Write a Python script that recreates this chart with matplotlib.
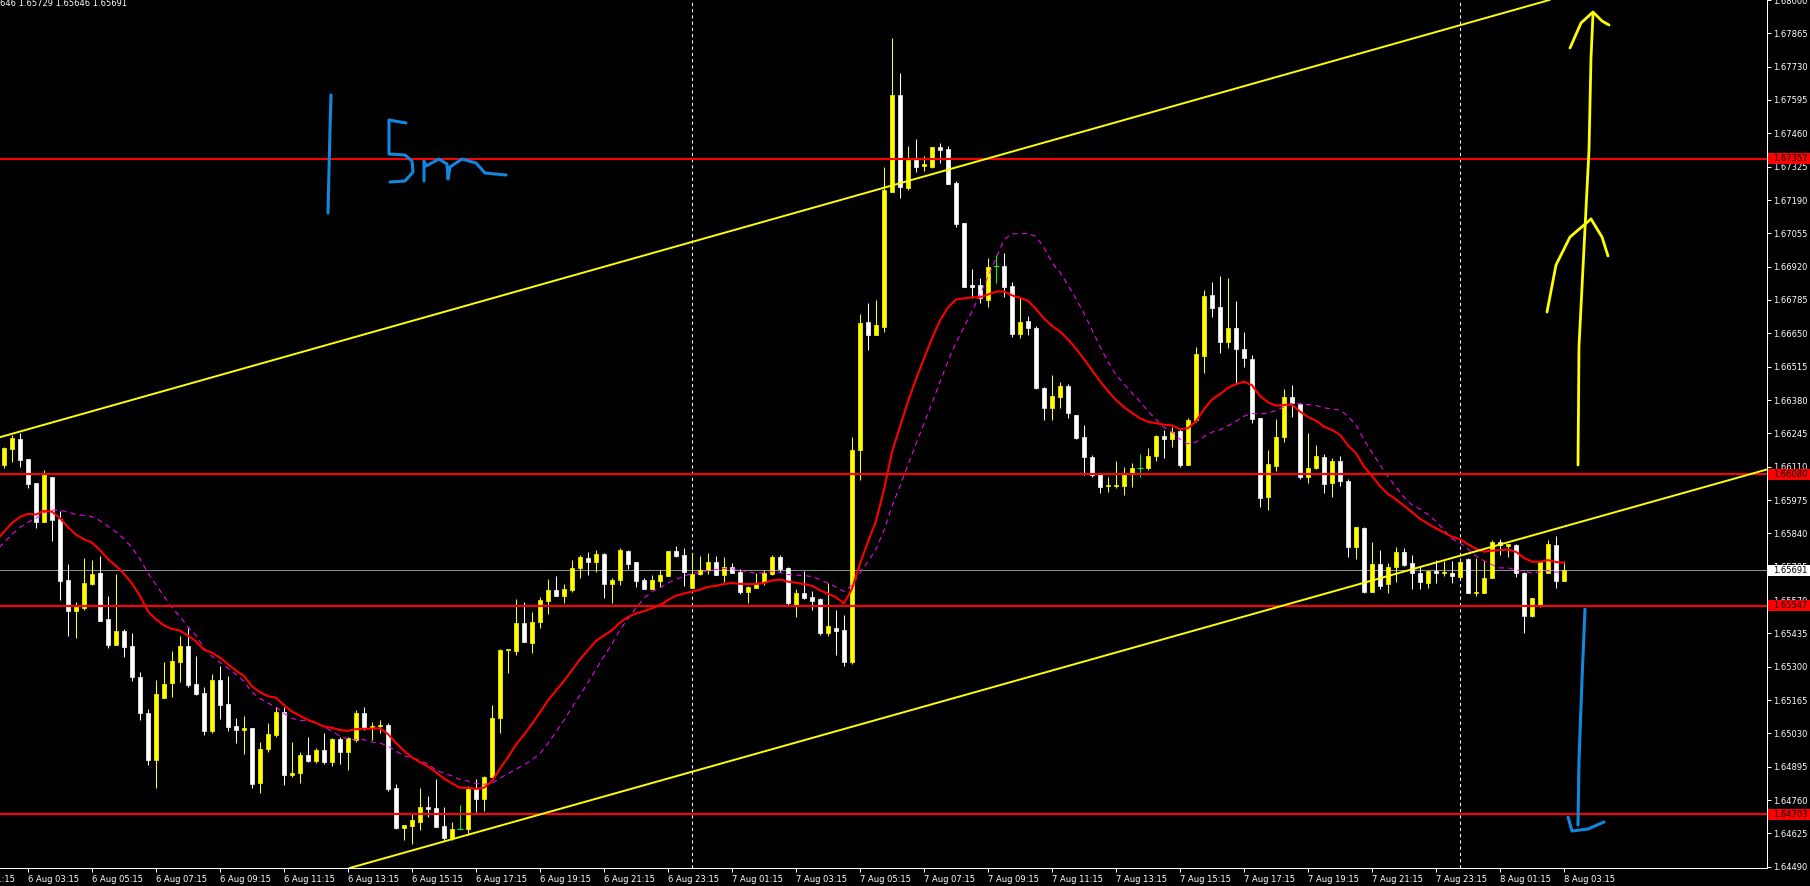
import numpy as np
import pandas as pd
import matplotlib
matplotlib.use("Agg")
import matplotlib.pyplot as plt
from matplotlib.patches import Rectangle
from matplotlib.transforms import Affine2D

# ==================== 数据 (M15, 从截图读取) ====================
bar_start = "2014-08-06 02:30"

opens = [
    1.66117, 1.66182, 1.66222, 1.66141, 1.66044, 1.65886, 1.66068, 1.65898, 1.65651, 1.65525,
    1.65538, 1.65635, 1.65679, 1.65493, 1.65388, 1.65444, 1.65384, 1.65258, 1.65112, 1.64922,
    1.65173, 1.65234, 1.65319, 1.65384, 1.65230, 1.65193, 1.65039, 1.65246, 1.65149, 1.65060,
    1.65044, 1.65052, 1.64829, 1.64967, 1.65023, 1.65116, 1.64861, 1.64869, 1.64942, 1.64918,
    1.64963, 1.64914, 1.65007, 1.64954, 1.65003, 1.65112, 1.65056, 1.65060, 1.65064, 1.64809,
    1.64647, 1.64655, 1.64671, 1.64732, 1.64728, 1.64655, 1.64606, 1.64643, 1.64643, 1.64805,
    1.64764, 1.64853, 1.65092, 1.65368, 1.65363, 1.65477, 1.65396, 1.65481, 1.65566, 1.65611,
    1.65586, 1.65611, 1.65700, 1.65740, 1.65724, 1.65756, 1.65635, 1.65651, 1.65768, 1.65724,
    1.65651, 1.65615, 1.65647, 1.65667, 1.65768, 1.65752, 1.65619, 1.65675, 1.65692, 1.65724,
    1.65671, 1.65704, 1.65683, 1.65602, 1.65619, 1.65643, 1.65675, 1.65744, 1.65700, 1.65550,
    1.65598, 1.65582, 1.65574, 1.65436, 1.65457, 1.65449, 1.65319, 1.66178, 1.66696, 1.66643,
    1.66676, 1.67222, 1.67615, 1.67239, 1.67352, 1.67328, 1.67324, 1.67405, 1.67397, 1.67259,
    1.67097, 1.66846, 1.66846, 1.66785, 1.66923, 1.66923, 1.66842, 1.66647, 1.66700, 1.66672,
    1.66429, 1.66348, 1.66392, 1.66437, 1.66319, 1.66230, 1.66149, 1.66080, 1.66032, 1.66032,
    1.66032, 1.66084, 1.66105, 1.66105, 1.66153, 1.66234, 1.66222, 1.66254, 1.66117, 1.66299,
    1.66558, 1.66805, 1.66757, 1.66615, 1.66672, 1.66587, 1.66546, 1.66307, 1.65987, 1.66113,
    1.66230, 1.66392, 1.66364, 1.66068, 1.66105, 1.66149, 1.66044, 1.66133, 1.66052, 1.65785,
    1.65862, 1.65602, 1.65716, 1.65635, 1.65704, 1.65764, 1.65720, 1.65679, 1.65639, 1.65687,
    1.65679, 1.65679, 1.65663, 1.65736, 1.65598, 1.65598, 1.65659, 1.65805, 1.65789, 1.65793,
    1.65679, 1.65505, 1.65550, 1.65679, 1.65793, 1.65646,
]

highs = [
    1.66190, 1.66238, 1.66246, 1.66141, 1.66044, 1.66097, 1.66068, 1.65930, 1.65716, 1.65562,
    1.65740, 1.65732, 1.65748, 1.65586, 1.65675, 1.65453, 1.65436, 1.65278, 1.65129, 1.65246,
    1.65319, 1.65363, 1.65424, 1.65457, 1.65343, 1.65218, 1.65270, 1.65303, 1.65262, 1.65092,
    1.65100, 1.65052, 1.64995, 1.65072, 1.65137, 1.65137, 1.64995, 1.64954, 1.65015, 1.64971,
    1.65031, 1.65011, 1.65015, 1.65015, 1.65125, 1.65137, 1.65076, 1.65084, 1.65072, 1.64825,
    1.64659, 1.64707, 1.64809, 1.64776, 1.64845, 1.64732, 1.64671, 1.64740, 1.64817, 1.64845,
    1.64857, 1.65145, 1.65372, 1.65372, 1.65574, 1.65562, 1.65521, 1.65582, 1.65655, 1.65667,
    1.65635, 1.65732, 1.65752, 1.65764, 1.65773, 1.65760, 1.65659, 1.65780, 1.65773, 1.65724,
    1.65659, 1.65671, 1.65692, 1.65768, 1.65789, 1.65780, 1.65760, 1.65748, 1.65760, 1.65748,
    1.65744, 1.65720, 1.65696, 1.65627, 1.65679, 1.65692, 1.65752, 1.65752, 1.65704, 1.65615,
    1.65687, 1.65606, 1.65578, 1.65639, 1.65530, 1.65509, 1.66230, 1.66728, 1.66773, 1.66785,
    1.67324, 1.67846, 1.67704, 1.67409, 1.67437, 1.67368, 1.67405, 1.67421, 1.67409, 1.67267,
    1.67097, 1.66911, 1.66874, 1.66955, 1.66967, 1.66975, 1.66858, 1.66793, 1.66720, 1.66680,
    1.66433, 1.66481, 1.66453, 1.66445, 1.66319, 1.66279, 1.66157, 1.66084, 1.66068, 1.66133,
    1.66109, 1.66125, 1.66161, 1.66186, 1.66238, 1.66259, 1.66271, 1.66267, 1.66307, 1.66595,
    1.66826, 1.66858, 1.66882, 1.66874, 1.66781, 1.66655, 1.66562, 1.66307, 1.66178, 1.66303,
    1.66425, 1.66441, 1.66368, 1.66246, 1.66198, 1.66161, 1.66145, 1.66153, 1.66060, 1.65866,
    1.65866, 1.65805, 1.65773, 1.65720, 1.65785, 1.65780, 1.65752, 1.65708, 1.65692, 1.65732,
    1.65728, 1.65728, 1.65740, 1.65740, 1.65740, 1.65728, 1.65813, 1.65817, 1.65797, 1.65797,
    1.65683, 1.65578, 1.65724, 1.65813, 1.65829, 1.65729,
]

lows = [
    1.66105, 1.66129, 1.66109, 1.66024, 1.65862, 1.65886, 1.65809, 1.65570, 1.65424, 1.65416,
    1.65530, 1.65631, 1.65485, 1.65376, 1.65388, 1.65339, 1.65242, 1.65084, 1.64902, 1.64809,
    1.65173, 1.65177, 1.65238, 1.65218, 1.65185, 1.65023, 1.65031, 1.65088, 1.65039, 1.64991,
    1.64946, 1.64809, 1.64788, 1.64954, 1.65015, 1.64821, 1.64853, 1.64829, 1.64914, 1.64910,
    1.64906, 1.64898, 1.64906, 1.64882, 1.64995, 1.65044, 1.65003, 1.65031, 1.64796, 1.64643,
    1.64598, 1.64582, 1.64639, 1.64691, 1.64651, 1.64598, 1.64598, 1.64643, 1.64618, 1.64711,
    1.64715, 1.64853, 1.65031, 1.65274, 1.65347, 1.65399, 1.65355, 1.65457, 1.65513, 1.65586,
    1.65558, 1.65602, 1.65659, 1.65671, 1.65683, 1.65578, 1.65558, 1.65631, 1.65696, 1.65623,
    1.65615, 1.65615, 1.65623, 1.65667, 1.65744, 1.65627, 1.65619, 1.65671, 1.65675, 1.65671,
    1.65643, 1.65679, 1.65594, 1.65558, 1.65619, 1.65631, 1.65671, 1.65683, 1.65550, 1.65501,
    1.65574, 1.65530, 1.65428, 1.65424, 1.65347, 1.65303, 1.65311, 1.66056, 1.66583, 1.66643,
    1.66655, 1.67222, 1.67198, 1.67231, 1.67303, 1.67307, 1.67320, 1.67340, 1.67255, 1.67081,
    1.66836, 1.66793, 1.66773, 1.66757, 1.66854, 1.66797, 1.66635, 1.66631, 1.66643, 1.66425,
    1.66299, 1.66299, 1.66348, 1.66307, 1.66222, 1.66076, 1.66068, 1.66003, 1.66007, 1.66024,
    1.65995, 1.66028, 1.66068, 1.66097, 1.66133, 1.66145, 1.66190, 1.66109, 1.66117, 1.66291,
    1.66489, 1.66716, 1.66570, 1.66591, 1.66449, 1.66514, 1.66287, 1.65947, 1.65935, 1.66092,
    1.66210, 1.66311, 1.66060, 1.66044, 1.66101, 1.66003, 1.65987, 1.66032, 1.65744, 1.65736,
    1.65598, 1.65602, 1.65615, 1.65598, 1.65643, 1.65708, 1.65615, 1.65615, 1.65619, 1.65639,
    1.65667, 1.65639, 1.65659, 1.65598, 1.65586, 1.65598, 1.65659, 1.65752, 1.65744, 1.65663,
    1.65436, 1.65501, 1.65542, 1.65679, 1.65619, 1.65646,
]

closes = [
    1.66186, 1.66226, 1.66137, 1.66040, 1.65886, 1.66076, 1.65894, 1.65647, 1.65525, 1.65542,
    1.65639, 1.65675, 1.65485, 1.65388, 1.65444, 1.65380, 1.65258, 1.65112, 1.64922, 1.65188,
    1.65230, 1.65323, 1.65384, 1.65226, 1.65189, 1.65039, 1.65246, 1.65145, 1.65056, 1.65044,
    1.65052, 1.64825, 1.64967, 1.65027, 1.65116, 1.64861, 1.64869, 1.64942, 1.64918, 1.64963,
    1.64914, 1.65007, 1.64954, 1.65011, 1.65112, 1.65056, 1.65060, 1.65062, 1.64805, 1.64647,
    1.64659, 1.64679, 1.64732, 1.64724, 1.64651, 1.64606, 1.64643, 1.64643, 1.64805, 1.64764,
    1.64853, 1.65092, 1.65368, 1.65372, 1.65477, 1.65399, 1.65481, 1.65570, 1.65611, 1.65586,
    1.65615, 1.65700, 1.65744, 1.65724, 1.65756, 1.65635, 1.65651, 1.65773, 1.65716, 1.65647,
    1.65615, 1.65651, 1.65671, 1.65768, 1.65748, 1.65683, 1.65675, 1.65692, 1.65724, 1.65671,
    1.65704, 1.65679, 1.65602, 1.65623, 1.65639, 1.65679, 1.65744, 1.65696, 1.65558, 1.65598,
    1.65578, 1.65566, 1.65436, 1.65465, 1.65444, 1.65319, 1.66178, 1.66692, 1.66643, 1.66684,
    1.67231, 1.67615, 1.67243, 1.67352, 1.67324, 1.67336, 1.67405, 1.67393, 1.67255, 1.67093,
    1.66836, 1.66836, 1.66793, 1.66919, 1.66923, 1.66838, 1.66647, 1.66696, 1.66672, 1.66429,
    1.66348, 1.66396, 1.66437, 1.66327, 1.66226, 1.66149, 1.66076, 1.66028, 1.66036, 1.66036,
    1.66076, 1.66105, 1.66105, 1.66153, 1.66234, 1.66222, 1.66250, 1.66117, 1.66299, 1.66566,
    1.66801, 1.66753, 1.66615, 1.66672, 1.66587, 1.66550, 1.66303, 1.65983, 1.66121, 1.66230,
    1.66392, 1.66368, 1.66068, 1.66105, 1.66153, 1.66040, 1.66133, 1.66052, 1.65785, 1.65866,
    1.65602, 1.65716, 1.65627, 1.65704, 1.65764, 1.65712, 1.65679, 1.65643, 1.65687, 1.65679,
    1.65683, 1.65667, 1.65724, 1.65598, 1.65602, 1.65659, 1.65805, 1.65793, 1.65797, 1.65679,
    1.65505, 1.65578, 1.65724, 1.65797, 1.65647, 1.65691,
]

# 窗口左侧之前的收盘价, 只用来让均线有起始值
warmup_closes = [
    1.65408, 1.65449, 1.65469, 1.65509, 1.65530, 1.65570, 1.65550, 1.65590, 1.65611, 1.65570,
    1.65631, 1.65671, 1.65651, 1.65692, 1.65732, 1.65712, 1.65773, 1.65813, 1.65854, 1.65894,
    1.65935, 1.65975, 1.66016, 1.66076, 1.66117,
]

hline_levels = [1.67357, 1.66080, 1.65547, 1.64703]
bid_price = 1.65691
channel_upper = [(0, 1.66234), (190, 1.67971)]
channel_lower = [(55, 1.64592), (190, 1.65822)]
day_breaks = [86, 182]
price_ticks = [
    1.64490, 1.64625, 1.64760, 1.64895, 1.65030, 1.65165, 1.65300, 1.65435, 1.65570,
    1.65705, 1.65840, 1.65975, 1.66110, 1.66245, 1.66380, 1.66515, 1.66650, 1.66785,
    1.66920, 1.67055, 1.67190, 1.67325, 1.67460, 1.67595, 1.67730, 1.67865, 1.68000,
]
header_text = "646 1.65729 1.65646 1.65691"

# 手绘标记 (截图像素坐标)
pen_one = [(331, 95), (330, 130), (329, 170), (328, 213)]
pen_five = [(406, 123), (389, 120), (389, 154), (405, 155), (412, 161), (413, 172),
            (405, 181), (390, 182)]
pen_m = [(424, 181), (424, 161), (426, 166), (439, 159), (447, 164), (448, 179),
         (450, 167), (462, 159), (476, 163), (485, 173), (506, 175)]
blue_stem = [(1585, 609), (1582, 680), (1579, 760), (1578, 825)]
blue_hook = [(1568, 817), (1572, 831), (1588, 829), (1604, 822)]
yellow_stem = [(1578, 465), (1579, 346), (1584, 248), (1589, 150), (1591, 58), (1593, 14)]
yellow_top = [(1570, 48), (1581, 23), (1593, 12), (1602, 21), (1609, 25)]
yellow_mid_left = [(1591, 219), (1570, 237), (1556, 265), (1547, 312)]
yellow_mid_right = [(1591, 219), (1602, 237), (1608, 256)]

# ==================== 画图 ====================
W, H = 1810, 886
plot_w, plot_h = 1767, 868
px_per_bar = 8
price_per_px = 0.0000405

fig = plt.figure(figsize=(W / 100, H / 100), dpi=100, facecolor="black")
ax = fig.add_axes([0, (H - plot_h) / H, plot_w / W, plot_h / H])
ax.set_facecolor("black")

o = np.array(opens)
h = np.array(highs)
l = np.array(lows)
c = np.array(closes)
idx = np.arange(len(c))

colors = np.where(c > o, "#ffff00", np.where(c < o, "#ffffff", "#00ff00"))
ax.vlines(idx, l, h, colors=colors, linewidth=0.75, zorder=2)
body = c != o
ax.bar(idx[body], np.abs(c - o)[body], bottom=np.minimum(o, c)[body], width=0.55,
       color=colors[body], edgecolor=colors[body], linewidth=0.5, zorder=2)
flat = c == o
ax.hlines(c[flat], idx[flat] - 0.32, idx[flat] + 0.32, colors="#00ff00", linewidth=0.75, zorder=2)

# 均线: EMA20 红色实线, SMA20 紫色虚线
all_close = pd.Series(warmup_closes + closes)
ema20 = all_close.ewm(span=20, adjust=False).mean().to_numpy()
sma20 = all_close.rolling(20).mean().to_numpy()
ma_x = np.arange(-len(warmup_closes), len(closes))
ax.plot(ma_x, sma20, color="#ff00ff", linewidth=0.75, linestyle=(0, (5, 4)), zorder=3)
ax.plot(ma_x, ema20, color="#ff0000", linewidth=1.5, zorder=3)

# 水平线, 通道线, 日分隔线
for lvl in hline_levels:
    ax.axhline(lvl, color="#ff0000", linewidth=1.5, zorder=4)
ax.axhline(bid_price, color="#8c8c8c", linewidth=0.75, zorder=1)
ax.axline(channel_upper[0], channel_upper[1], color="#ffff00", linewidth=1.4, zorder=4)
ax.axline(channel_lower[0], channel_lower[1], color="#ffff00", linewidth=1.4, zorder=4)
for d in day_breaks:
    ax.axvline(d, color="white", linewidth=0.75, linestyle=(0, (3, 3)), zorder=1)

x_left = -0.5
ax.set_xlim(x_left, x_left + plot_w / px_per_bar)
ax.set_ylim(1.68 - plot_h * price_per_px, 1.68)

for side in ["left", "top"]:
    ax.spines[side].set_visible(False)
for side in ["right", "bottom"]:
    ax.spines[side].set_color("white")
    ax.spines[side].set_linewidth(0.75)

# 价格轴
ax.yaxis.tick_right()
ax.set_yticks(price_ticks)
ax.set_yticklabels([f"{p:.5f}" for p in price_ticks])
ax.tick_params(axis="y", colors="white", length=3, width=0.75, pad=1.5, labelsize=6)

# 时间轴
times = pd.date_range(bar_start, periods=len(closes), freq="15min")
tick_idx = list(range(3, len(closes), 8))
tick_lbl = [f"{times[i].day} {times[i]:%b %H:%M}" for i in tick_idx]
ax.set_xticks(tick_idx)
ax.set_xticklabels(tick_lbl)
ax.tick_params(axis="x", colors="white", length=3, width=0.75, pad=2, labelsize=6)
for t in ax.get_xticklabels():
    t.set_ha("left")
first_t = times[3] - pd.Timedelta(hours=2)
ax.text(-5, -2 / plot_h * 3.5, f"{first_t.day} {first_t:%b %H:%M}", transform=ax.get_xaxis_transform(),
        color="white", fontsize=6, ha="left", va="top", clip_on=False)

# 右侧价格标签
def price_tag(price, face, text_color):
    half = 5.5 * price_per_px
    ax.add_patch(Rectangle((1 + 1 / plot_w, price - half), 0.04, 2 * half,
                           transform=ax.get_yaxis_transform(), facecolor=face,
                           edgecolor="none", clip_on=False, zorder=10))
    ax.text(1 + 6 / plot_w, price, f"{price:.5f}", transform=ax.get_yaxis_transform(),
            color=text_color, fontsize=6, ha="left", va="center", clip_on=False, zorder=11)

for lvl in hline_levels:
    price_tag(lvl, "#ff0000", "black")
price_tag(bid_price, "white", "black")

fig.text(0, 1 - 4 / H, header_text, color="white", fontsize=6, ha="left", va="center")

# 手绘
px = Affine2D().scale(1 / W, -1 / H).translate(0, 1) + fig.transFigure
for stroke in [pen_one, pen_five, pen_m, blue_stem, blue_hook]:
    xs, ys = zip(*stroke)
    fig.add_artist(plt.Line2D(xs, ys, transform=px, color="#1188dd", linewidth=2.2,
                              solid_capstyle="round", solid_joinstyle="round"))
for stroke in [yellow_stem, yellow_top, yellow_mid_left, yellow_mid_right]:
    xs, ys = zip(*stroke)
    fig.add_artist(plt.Line2D(xs, ys, transform=px, color="#ffff00", linewidth=2.0,
                              solid_capstyle="round", solid_joinstyle="round"))

fig.savefig("out.png", dpi=100, facecolor="black")
